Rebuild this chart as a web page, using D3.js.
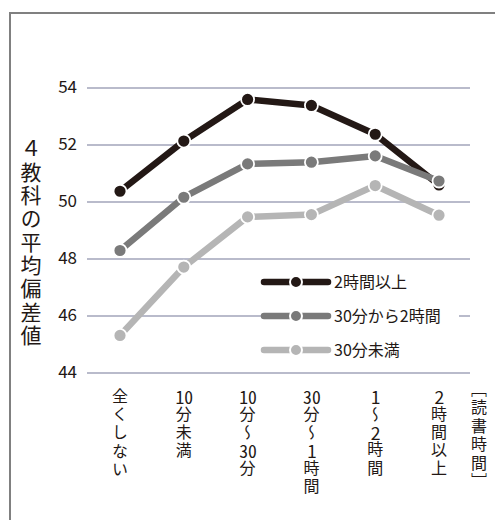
<!DOCTYPE html>
<html><head><meta charset="utf-8">
<script src="https://cdn.jsdelivr.net/npm/d3@7"></script>
<style>
html,body{margin:0;padding:0;background:#fff;}
#wrap{position:relative;width:495px;height:520px;overflow:hidden;}
svg{display:block;font-family:"Noto Sans CJK JP","Noto Sans",sans-serif;}
.vt{position:absolute;writing-mode:vertical-rl;text-orientation:mixed;font-family:"Noto Sans CJK JP",sans-serif;color:#231815;white-space:nowrap;}
.tcy{text-combine-upright:all;font-size:1.1em;}
</style></head>
<body><div id="wrap"><svg id="c" width="495" height="520"></svg></div>
<script>
const categories = ["全くしない","10分未満","10分～30分","30分～1時間","1～2時間","2時間以上"];
const seriesNames = ["2時間以上","30分から2時間","30分未満"];
const over2h = [50.36, 52.12, 53.58, 53.37, 52.36, 50.58];
const from30to2h = [48.28, 50.15, 51.32, 51.38, 51.6, 50.72];
const under30 = [45.3, 47.7, 49.46, 49.54, 50.56, 49.52];
const yTicks = [44, 46, 48, 50, 52, 54];
const yTitle = "４教科の平均偏差値";
const xTitle = "［読書時間］";
const colors = ["#231815", "#7a7a7a", "#b5b5b5"];

const svg = d3.select("#c");
const wrap = d3.select("#wrap");
// frame
svg.append("path").attr("d","M10,530 L10,13 L505,13").attr("fill","none").attr("stroke","#808080").attr("stroke-width",2);

const x = d3.scalePoint().domain(categories).range([120, 439]);
const y = d3.scaleLinear().domain([44, 54]).range([372.5, 87.5]);

const gx0 = 87, gx1 = 470;
const ax = svg.append("g").attr("transform", `translate(${gx0},0)`)
  .call(d3.axisLeft(y).tickValues(yTicks).tickSize(-(gx1-gx0)).tickPadding(10).tickFormat(d3.format("d")));
ax.select(".domain").remove();
ax.selectAll(".tick line").attr("stroke","#b9bbcb").attr("stroke-width",2);
ax.selectAll(".tick text").attr("fill","#231815").style("font-size","17px").style("font-family","'Noto Sans CJK JP',sans-serif");

// series
const series = [over2h, from30to2h, under30];
const line = d3.line().x((d,i)=>x(categories[i])).y(d=>y(d));
series.forEach((vals, si)=>{
  const g = svg.append("g");
  g.append("path").datum(vals).attr("d", line).attr("fill","none")
    .attr("stroke", colors[si]).attr("stroke-width", 6.5).attr("stroke-linejoin","round");
  g.selectAll("circle").data(vals).join("circle")
    .attr("cx",(d,i)=>x(categories[i])).attr("cy",d=>y(d)).attr("r",6.5)
    .attr("fill",colors[si]).attr("stroke","#fff").attr("stroke-width",1.8);
});

// legend
const lg = svg.append("g");
lg.append("rect").attr("x",261).attr("y",268).attr("width",198).attr("height",96).attr("fill","#fff");
seriesNames.forEach((n,i)=>{
  const yy = 282 + i*34;
  lg.append("line").attr("x1",264).attr("x2",328).attr("y1",yy).attr("y2",yy)
    .attr("stroke",colors[i]).attr("stroke-width",6.5).attr("stroke-linecap","round");
  lg.append("circle").attr("cx",296).attr("cy",yy).attr("r",6).attr("fill",colors[i]).attr("stroke","#fff").attr("stroke-width",2);
  lg.append("text").attr("x",334).attr("y",yy+6).attr("fill","#231815").style("font-size","16px").text(n);
});

// vertical texts (HTML vertical writing, digits combined upright)
function tokens(s){ return s.match(/[0-9]+|./g); }
function verticalLabel(str, cx, top, size, spacing, lh){
  const d = wrap.append("div").attr("class","vt")
    .style("left",(cx - lh/2)+"px").style("top",top+"px")
    .style("width",lh+"px").style("line-height",lh+"px")
    .style("font-size",size+"px").style("letter-spacing",spacing+"px");
  tokens(str).forEach(tk=>{
    const s = d.append("span").text(tk);
    if(/^[0-9]+$/.test(tk)) s.attr("class","tcy");
  });
  return d;
}
categories.forEach(c=> verticalLabel(c, x(c), 388, 16, 2.2, 22));
verticalLabel(xTitle, 479, 381, 16, 2.4, 22);
verticalLabel(yTitle, 31, 138, 21, 2.3, 26);
</script></body></html>
